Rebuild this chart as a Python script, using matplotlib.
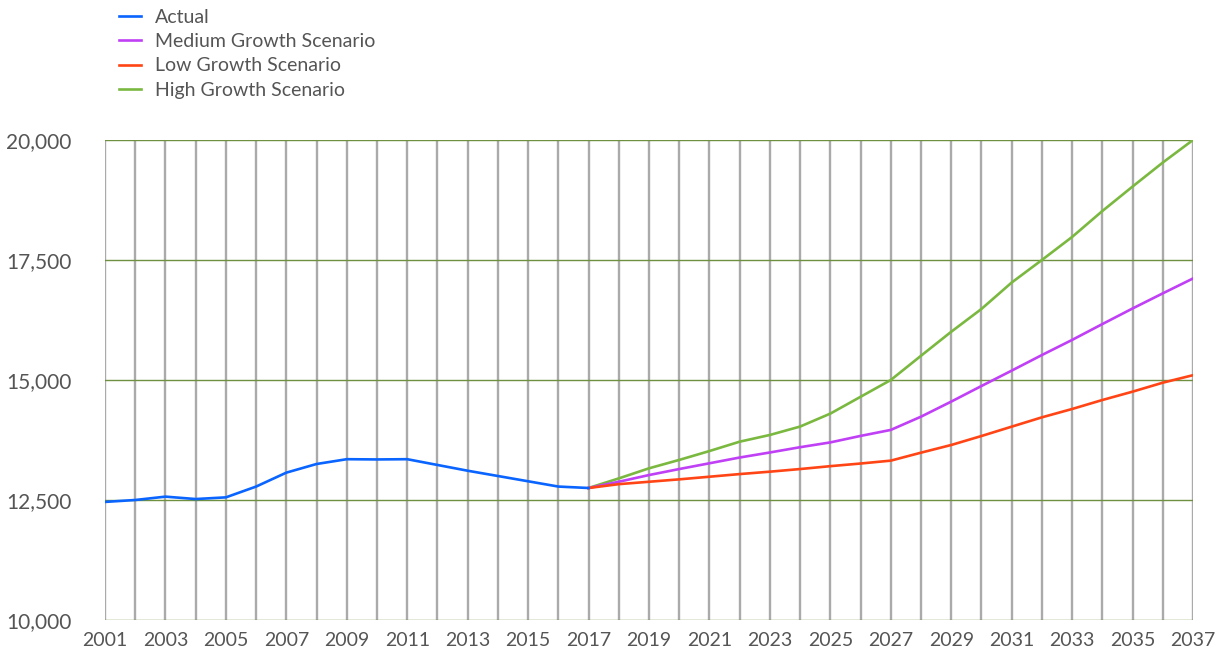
import matplotlib
matplotlib.use("Agg")
import matplotlib.pyplot as plt
from matplotlib.ticker import FuncFormatter

# data
years_actual = list(range(2001, 2018))
actual = [12460, 12500, 12570, 12520, 12555, 12780, 13070, 13250, 13350, 13345,
          13350, 13230, 13110, 13000, 12890, 12780, 12750]

years_fc = list(range(2017, 2038))
medium = [12750, 12880, 13020, 13145, 13265, 13385, 13490, 13600, 13700, 13835,
          13960, 14236, 14550, 14875, 15195, 15520, 15835, 16165, 16490, 16805, 17115]
low = [12750, 12830, 12880, 12930, 12985, 13040, 13090, 13145, 13205, 13260,
       13320, 13486, 13646, 13833, 14028, 14222, 14396, 14583, 14757, 14944, 15100]
high = [12750, 12950, 13160, 13335, 13520, 13715, 13855, 14030, 14300, 14650,
        15000, 15505, 16005, 16480, 17030, 17500, 17980, 18520, 19030, 19530, 20000]

plt.rcParams['font.family'] = ['Lato', 'DejaVu Sans']

fig = plt.figure(figsize=(12.2, 6.58), dpi=100)
ax = fig.add_axes([105 / 1220, 1 - 620 / 658, (1193 - 105) / 1220, (620 - 140) / 658])

# gridlines
all_years = list(range(2001, 2038))
ax.vlines(all_years, 10000, 20000, colors='#aaaaaa', linewidth=1.7, zorder=1)
for yv in [10000, 12500, 15000, 17500, 20000]:
    ax.axhline(yv, color='#6e9040', linewidth=1.0, zorder=1.5)

ax.plot(years_actual, actual, color='#0a64ff', linewidth=1.9, label='Actual', zorder=5)
ax.plot(years_fc, medium, color='#c040f5', linewidth=1.9, label='Medium Growth Scenario', zorder=3)
ax.plot(years_fc, low, color='#ff4515', linewidth=1.9, label='Low Growth Scenario', zorder=4)
ax.plot(years_fc, high, color='#7ab840', linewidth=1.9, label='High Growth Scenario', zorder=2)

ax.set_xlim(2001, 2037)
ax.set_ylim(10000, 20000)
ax.set_xticks(all_years)
ax.set_xticklabels([str(y) if y % 2 == 1 else '' for y in all_years])
ax.set_yticks([10000, 12500, 15000, 17500, 20000])
ax.yaxis.set_major_formatter(FuncFormatter(lambda v, p: f'{int(v):,}'))
ax.tick_params(axis='x', length=0, labelsize=14, colors='#555555', pad=9)
ax.tick_params(axis='y', length=0, labelsize=15, colors='#555555', pad=24)
for s in ax.spines.values():
    s.set_visible(False)
ax.set_facecolor('none')

leg = fig.legend(loc='upper left', bbox_to_anchor=(108 / 1220, 1.003), frameon=False,
                 fontsize=14, handlelength=1.15, handletextpad=0.7, labelspacing=0.38,
                 borderaxespad=0.15)
for t in leg.get_texts():
    t.set_color('#555555')

fig.savefig('out.png', dpi=100)
